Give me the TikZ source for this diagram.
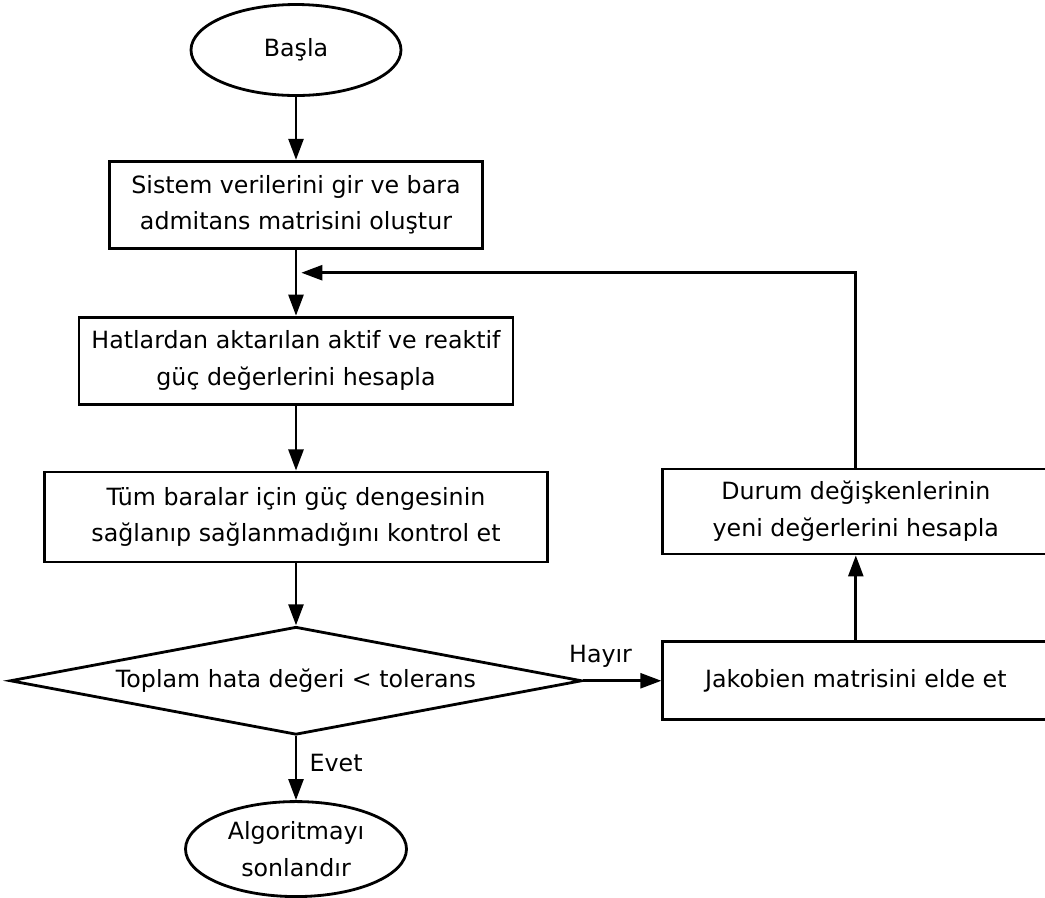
\documentclass[tikz,border=0pt]{standalone}
\usepackage{fontspec}
\setmainfont{DejaVu Sans}
\usetikzlibrary{positioning,arrows.meta,shapes.geometric}

\begin{document}
\begin{tikzpicture}[
  every node/.style={font=\fontsize{13.5}{21}\selectfont},
  box/.style={draw, line width=1.6pt, align=center, minimum width=#1, minimum height=1.74cm, inner sep=2pt},
  box/.default=7.46cm,
  term/.style={draw, ellipse, line width=1.6pt, align=center, inner sep=1pt, minimum width=#1},
  term/.default=4.2cm,
  cond/.style={draw, diamond, aspect=5.2, line width=1.6pt, align=center, inner sep=0pt, minimum width=11.44cm, minimum height=2.16cm},
  arrow/.style={-{Triangle[length=12pt, width=8.5pt]}, line width=1.6pt},
  lbl/.style={font=\fontsize{13.5}{16}\selectfont, inner sep=1pt},
  node distance=1.3cm]
  \useasboundingbox (0,0) rectangle (20.9,-17.94);
  % ana akis
  \node[term, minimum height=1.82cm] (start) at (5.92,-1.0) {Başla};
  \node[box, below=1.26cm of start] (input) {Sistem verilerini gir ve bara\\admitans matrisini oluştur};
  \node[box=8.68cm, below=1.32cm of input] (flow) {Hatlardan aktarılan aktif ve reaktif\\güç değerlerini hesapla};
  \node[box=10.06cm, minimum height=1.8cm, below=1.3cm of flow] (check) {Tüm baralar için güç dengesinin\\sağlanıp sağlanmadığını kontrol et};
  \node[cond, below=1.24cm of check] (tol) {Toplam hata değeri < tolerans};
  \node[term=4.42cm, minimum height=1.9cm, below=1.28cm of tol] (stop) {Algoritmayı\\sonlandır};
  % iterasyon kolu
  \node[box=7.72cm, minimum height=1.56cm, right=1.56cm of tol] (jac) {Jakobien matrisini elde et};
  \node[box=7.72cm, minimum height=1.7cm, above=1.7cm of jac] (upd) {Durum değişkenlerinin\\yeni değerlerini hesapla};
  \coordinate[below=0.46cm of input] (join);
  \foreach \a/\b in {start/input, input/flow, flow/check, check/tol, jac/upd} \draw[arrow] (\a) -- (\b);
  \draw[arrow] (tol.east) -- node[lbl, pos=0.22, above=6pt] {Hayır} (jac.west);
  \draw[arrow] (tol.south) -- node[lbl, pos=0.42, right=6pt] {Evet} (stop.north);
  \draw[arrow] (upd.north) |- ([xshift=3pt]join);
\end{tikzpicture}
\end{document}
